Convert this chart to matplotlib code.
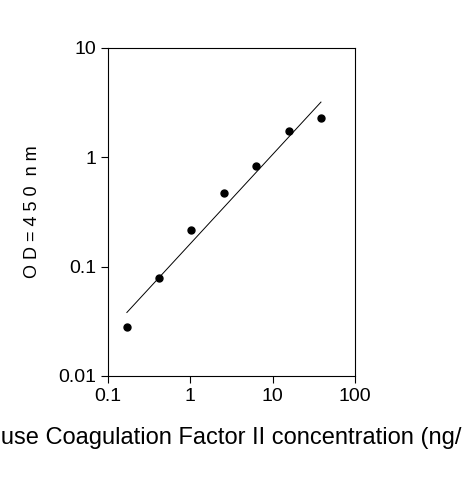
import matplotlib
matplotlib.use("Agg")
import matplotlib.pyplot as plt
import numpy as np

plt.rcParams['font.family'] = ['Liberation Sans Narrow', 'Liberation Sans', 'DejaVu Sans']

conc = [0.17, 0.42, 1.02, 2.6, 6.3, 15.7, 38.5]
od = [0.028, 0.079, 0.214, 0.47, 0.83, 1.73, 2.3]
fit_x = [0.17, 38.5]
fit_y = [0.038, 3.2]

fig = plt.figure(figsize=(4.63, 4.8), dpi=100)
ax = fig.add_axes([0.233, 0.217, 0.534, 0.683])
ax.plot(fit_x, fit_y, color='black', lw=0.7)
ax.plot(conc, od, 'o', color='black', ms=5)
ax.set_xscale('log'); ax.set_yscale('log')
ax.set_xlim(0.1, 100); ax.set_ylim(0.01, 10)
ax.set_xticks([0.1, 1, 10, 100]); ax.set_xticklabels(['0.1', '1', '10', '100'])
ax.set_yticks([0.01, 0.1, 1, 10]); ax.set_yticklabels(['0.01', '0.1', '1', '10'])
ax.minorticks_off()
ax.tick_params(labelsize=14, direction='out', length=5, width=0.8)
for s in ax.spines.values():
    s.set_linewidth(0.8)
ax.set_ylabel('O D = 4 5 0  n m', fontsize=13, labelpad=12)
fig.text(0.5, 0.075, 'Mouse Coagulation Factor II concentration (ng/ml)', ha='center', fontsize=17)
fig.savefig('out.png', dpi=100)
